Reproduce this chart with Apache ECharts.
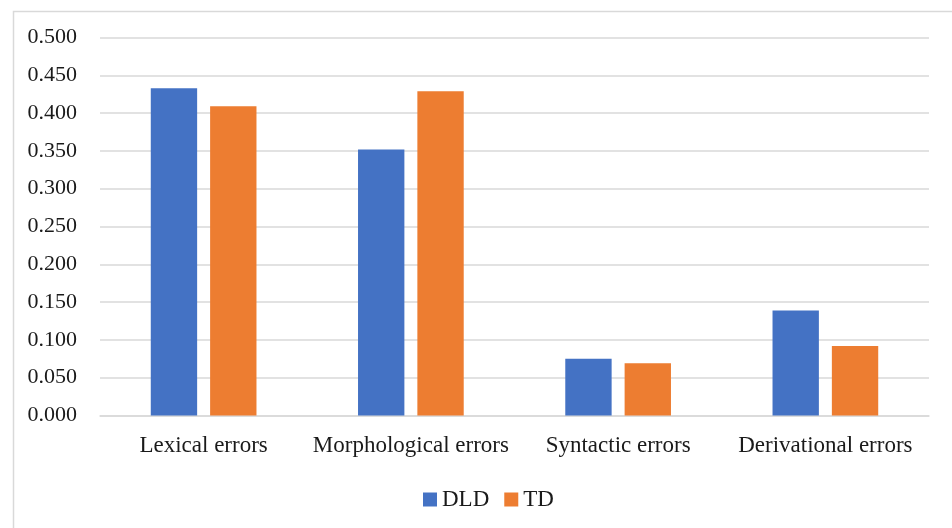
<!DOCTYPE html>
<html>
<head>
<meta charset="utf-8">
<script src="https://cdn.jsdelivr.net/npm/echarts@6/dist/echarts.min.js"></script>
<style>
html,body{margin:0;padding:0;background:#fff;}
#chart{width:952px;height:528px;}
</style>
</head>
<body>
<div id="chart"></div>
<script>
const categories = ['Lexical errors', 'Morphological errors', 'Syntactic errors', 'Derivational errors'];
const dldValues = [0.433, 0.352, 0.075, 0.139];
const tdValues = [0.409, 0.429, 0.069, 0.092];
const seriesNames = ['DLD', 'TD'];

const fontFamily = '"Liberation Serif", "Times New Roman", serif';
const chart = echarts.init(document.getElementById('chart'));
chart.setOption({
  animation: false,
  backgroundColor: '#ffffff',
  graphic: [{
    type: 'rect',
    shape: { x: 13.5, y: 11.5, width: 1200, height: 1200 },
    style: { fill: 'none', stroke: '#d9d9d9', lineWidth: 1.5 },
    silent: true
  }],
  grid: { left: 100, right: 23, top: 37.5, bottom: 112.5 },
  legend: {
    data: seriesNames,
    top: 483,
    left: 418,
    itemWidth: 14,
    itemHeight: 14,
    itemGap: 15,
    icon: 'rect',
    textStyle: { fontFamily: fontFamily, fontSize: 23, color: '#1a1a1a' }
  },
  xAxis: {
    type: 'category',
    data: categories,
    axisTick: { show: false },
    axisLine: { lineStyle: { color: '#d9d9d9', width: 1.5 } },
    axisLabel: { fontFamily: fontFamily, fontSize: 23, color: '#1a1a1a', margin: 19, interval: 0 }
  },
  yAxis: {
    type: 'value',
    min: 0,
    max: 0.5,
    interval: 0.05,
    axisLine: { show: false },
    axisTick: { show: false },
    splitLine: { lineStyle: { color: '#d9d9d9', width: 1.5 } },
    axisLabel: {
      fontFamily: fontFamily, fontSize: 22, color: '#1a1a1a', margin: 23,
      padding: [3, 0, 0, 0],
      formatter: v => v.toFixed(3)
    }
  },
  series: [
    { name: seriesNames[0], type: 'bar', data: dldValues, itemStyle: { color: '#4472C4' }, barGap: '28%', barCategoryGap: '49%' },
    { name: seriesNames[1], type: 'bar', data: tdValues, itemStyle: { color: '#ED7D31' } }
  ]
});
</script>
</body>
</html>
